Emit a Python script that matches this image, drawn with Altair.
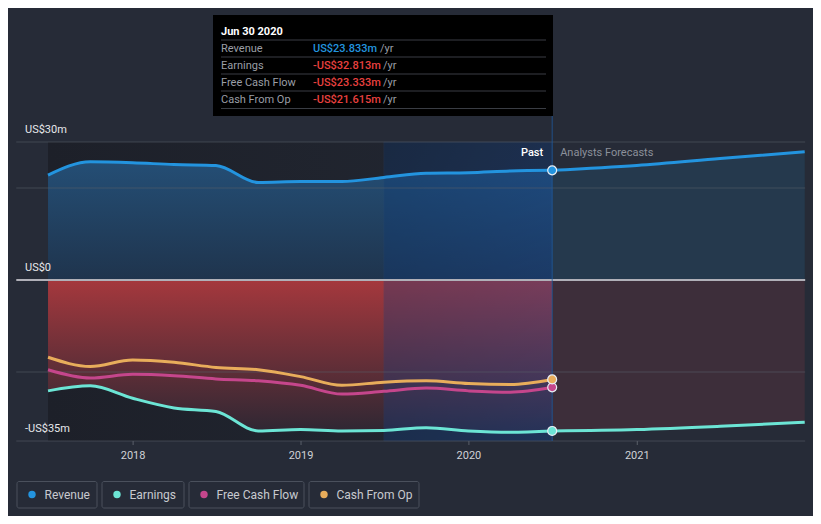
import altair as alt
import pandas as pd

# ---------------- data ----------------
past_dates = ["2017-06-30", "2017-09-30", "2017-12-31", "2018-03-31", "2018-06-30",
              "2018-09-30", "2018-12-31", "2019-03-31", "2019-06-30", "2019-09-30",
              "2019-12-31", "2020-03-31", "2020-06-30"]
revenue = [22.8, 25.7, 25.5, 25.1, 24.9, 21.2, 21.4, 21.4, 22.3, 23.2, 23.3, 23.7, 23.833]
earnings = [-24.1, -23.0, -25.7, -27.8, -28.6, -32.8, -32.5, -32.8, -32.7, -32.1, -32.8, -33.1, -32.813]
free_cash_flow = [-19.5, -21.3, -20.5, -20.8, -21.5, -21.9, -22.9, -24.8, -24.2, -23.5, -24.1, -24.4, -23.333]
cash_from_op = [-16.8, -18.8, -17.4, -17.9, -19.0, -19.5, -21.0, -22.9, -22.2, -21.9, -22.5, -22.7, -21.615]

fc_dates = ["2020-06-30", "2020-12-31", "2021-06-30", "2021-12-31"]
fc_revenue = [23.833, 24.9, 26.4, 27.9]
fc_earnings = [-32.813, -32.5, -31.8, -30.9]

series_names = ["Revenue", "Earnings", "Free Cash Flow", "Cash From Op"]
series_colors = ["#2394df", "#6ce5d5", "#c5468c", "#e8ad5b"]
tooltip_values = ["US$23.833m", "-US$32.813m", "-US$23.333m", "-US$21.615m"]
tooltip_colors = ["#2394df", "#e8403f", "#e8403f", "#e8403f"]
year_labels = ["2018", "2019", "2020", "2021"]
y_label_values = [30, 0, -35]
y_label_texts = ["US$30m", "US$0", "-US$35m"]
grid_values = [30, 20, -20, -35]
tooltip_title = "Jun 30 2020"
past_end = "2020-06-30"
band_start = "2019-06-30"

# ---------------- tables ----------------
past = pd.DataFrame({"date": past_dates, "Revenue": revenue, "Earnings": earnings,
                     "Free Cash Flow": free_cash_flow, "Cash From Op": cash_from_op})
fc = pd.DataFrame({"date": fc_dates, "Revenue": fc_revenue, "Earnings": fc_earnings})
past_long = past.melt("date", var_name="series", value_name="value")
fc_long = fc.melt("date", var_name="series", value_name="value")
last_pts = past_long[past_long["date"] == past_end]
one = pd.DataFrame({"k": [0]})

BG = "#262b37"
FONT = "Roboto"

xscale = alt.Scale(domain=["2017-04-04", "2022-01-18"], nice=False)
yscale = alt.Scale(domain=[-51.3, 59.13], nice=False, zero=False)
X = lambda f="date": alt.X(f"{f}:T", scale=xscale, axis=None)
Y = lambda f="value": alt.Y(f"{f}:Q", scale=yscale, axis=None)

color_scale = alt.Scale(domain=series_names, range=series_colors)

def grad(c1, c2, x2=0, y2=1):
    return alt.Gradient(gradient="linear",
                        stops=[alt.GradientStop(color=c1, offset=0),
                               alt.GradientStop(color=c2, offset=1)],
                        x1=0, y1=0, x2=x2, y2=y2)

layers = []

# dark past region
region = pd.DataFrame({"d0": [past_dates[0]], "d1": [past_end], "top": [30], "bot": [-35]})
layers.append(alt.Chart(region).mark_rect(color=grad("#1d2029", "#222732", 1, 0)).encode(
    x=X("d0"), x2="d1", y=Y("top"), y2="bot"))

# revenue area past
layers.append(alt.Chart(past).mark_area(interpolate="monotone",
              color=grad("#244e75", "#1f344d")).encode(
    x=X(), y=Y("Revenue"), y2=alt.datum(0)))
# earnings area past
layers.append(alt.Chart(past).mark_area(interpolate="monotone",
              color=grad("#a5383d", "#2e2733")).encode(
    x=X(), y=Y("Earnings"), y2=alt.datum(0)))
# forecast areas
layers.append(alt.Chart(fc).mark_area(interpolate="monotone", color="#25394d").encode(
    x=X(), y=Y("Revenue"), y2=alt.datum(0)))
layers.append(alt.Chart(fc).mark_area(interpolate="monotone", color="#3d2e3a").encode(
    x=X(), y=Y("Earnings"), y2=alt.datum(0)))

# highlight band (last 12 months)
band = pd.DataFrame({"d0": [band_start], "d1": [past_end], "top": [30], "bot": [-35]})
layers.append(alt.Chart(band).mark_rect(color=grad("#0a3570", "#1850b0", 1, 1), opacity=0.3,
                                        stroke="#2a4f80", strokeWidth=1, strokeOpacity=0.5).encode(
    x=X("d0"), x2="d1", y=Y("top"), y2="bot"))

# gridlines
grid = pd.DataFrame({"v": grid_values, "d0": ["2017-04-22"] * 4, "d1": ["2022-01-01"] * 4})
layers.append(alt.Chart(grid).mark_rule(color="#5a5f6a", strokeWidth=1, opacity=0.55).encode(
    x=X("d0"), x2="d1", y=Y("v")))
zero = pd.DataFrame({"v": [0], "d0": ["2017-04-22"], "d1": ["2022-01-01"]})
layers.append(alt.Chart(zero).mark_rule(color="#b0b0b8", strokeWidth=2).encode(
    x=X("d0"), x2="d1", y=Y("v")))

# x ticks and year labels
years = pd.DataFrame({"d": [f"{y}-01-01" for y in year_labels], "t": year_labels})
layers.append(alt.Chart(years).mark_rule(color="#5a5f6a").encode(
    x=X("d"), y=alt.value(433), y2=alt.value(437)))
layers.append(alt.Chart(years).mark_text(font=FONT, fontSize=11, color="#d0d2d6",
                                         baseline="middle").encode(
    x=X("d"), y=alt.value(447.5), text="t:N"))

# y labels
ylab = pd.DataFrame({"v": y_label_values, "t": y_label_texts})
layers.append(alt.Chart(ylab).mark_text(font=FONT, fontSize=11, color="#e6e8eb", align="left",
                                        baseline="middle", dy=-12).encode(
    x=alt.value(17), y=Y("v"), text="t:N"))

# vertical "now" line
vline = pd.DataFrame({"d": [past_end], "top": [57.6], "bot": [-35]})
layers.append(alt.Chart(vline).mark_rule(color="#1f5a9c", strokeWidth=1, opacity=0.8).encode(
    x=X("d"), y=Y("top"), y2="bot"))

# lines
layers.append(alt.Chart(past_long).mark_line(interpolate="monotone", strokeWidth=3).encode(
    x=X(), y=Y(), color=alt.Color("series:N", scale=color_scale, legend=None),
    detail="series:N"))
layers.append(alt.Chart(fc_long).mark_line(interpolate="monotone", strokeWidth=3).encode(
    x=X(), y=Y(), color=alt.Color("series:N", scale=color_scale, legend=None),
    detail="series:N"))

# end points
layers.append(alt.Chart(last_pts).mark_point(filled=True, size=80, opacity=1,
                                             stroke="#e8eef5", strokeWidth=1.2).encode(
    x=X(), y=Y(), fill=alt.Fill("series:N", scale=color_scale, legend=None)))

# Past / Analysts Forecasts
pf = pd.DataFrame({"d": [past_end], "v": [30]})
layers.append(alt.Chart(pf).mark_text(text="Past", font=FONT, fontSize=11, fontWeight=500,
                                      color="#ffffff", align="right", baseline="middle",
                                      dx=-9, dy=11).encode(x=X("d"), y=Y("v")))
layers.append(alt.Chart(pf).mark_text(text="Analysts Forecasts", font=FONT, fontSize=11,
                                      color="#8b909a", align="left", baseline="middle",
                                      dx=8, dy=11).encode(x=X("d"), y=Y("v")))

# tooltip box
layers.append(alt.Chart(one).mark_rect(color="#000000").encode(
    x=alt.value(205), x2=alt.value(545), y=alt.value(7), y2=alt.value(108)))
layers.append(alt.Chart(one).mark_text(text=tooltip_title, font=FONT, fontSize=11,
                                       fontWeight="bold", color="#ffffff", align="left",
                                       baseline="middle").encode(
    x=alt.value(213), y=alt.value(23.5)))
for i, (name, val, col) in enumerate(zip(series_names, tooltip_values, tooltip_colors)):
    yy = 40.5 + 17 * i
    layers.append(alt.Chart(one).mark_rule(color="#3a3d44", strokeWidth=1).encode(
        x=alt.value(213), x2=alt.value(538), y=alt.value(yy - 8.5)))
    layers.append(alt.Chart(one).mark_text(text=name, font=FONT, fontSize=11, color="#9a9ea6",
                                           align="left", baseline="middle").encode(
        x=alt.value(213), y=alt.value(yy)))
    layers.append(alt.Chart(one).mark_text(text=val, font=FONT, fontSize=11, fontWeight=500,
                                           color=col, align="left", baseline="middle").encode(
        x=alt.value(305), y=alt.value(yy)))
    layers.append(alt.Chart(one).mark_text(text="/yr", font=FONT, fontSize=11, color="#9a9ea6",
                                           align="left", baseline="middle").encode(
        x=alt.value(372 if i == 0 else 375), y=alt.value(yy)))
layers.append(alt.Chart(one).mark_rule(color="#3a3d44", strokeWidth=1).encode(
    x=alt.value(213), x2=alt.value(538), y=alt.value(100.5)))

# legend
legend_boxes = [(9, 89), (94, 176), (181, 296), (301, 411)]
for (x0, x1), name, col in zip(legend_boxes, series_names, series_colors):
    layers.append(alt.Chart(one).mark_rect(fill=BG, stroke="#4a505c", strokeWidth=1,
                                           cornerRadius=2).encode(
        x=alt.value(x0), x2=alt.value(x1), y=alt.value(473.5), y2=alt.value(500)))
    layers.append(alt.Chart(one).mark_point(filled=True, size=55, color=col, opacity=1).encode(
        x=alt.value(x0 + 15), y=alt.value(486.5)))
    layers.append(alt.Chart(one).mark_text(text=name, font=FONT, fontSize=12, color="#c8cacf",
                                           align="left", baseline="middle").encode(
        x=alt.value(x0 + 27.5), y=alt.value(486.5)))

chart = alt.layer(*layers).properties(
    width=805, height=508, background=BG, padding=0,
    autosize=alt.AutoSizeParams(type="none")
).configure_view(stroke=None)

chart.save("out.html", embed_options={"renderer": "svg", "actions": False})
